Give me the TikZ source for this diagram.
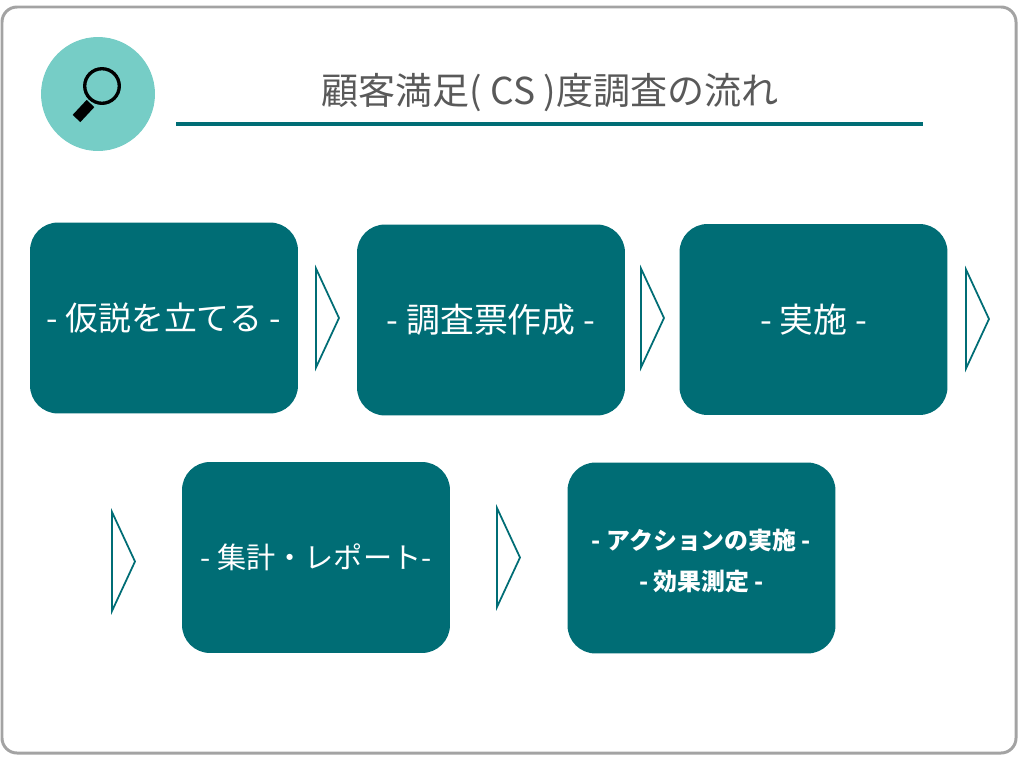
\documentclass[tikz,border=0pt]{standalone}
\usepackage{fontspec}
\setmainfont{Noto Sans CJK JP}
\definecolor{tealbox}{HTML}{006D75}
\definecolor{tealicon}{HTML}{76CDC6}
\definecolor{titlegray}{HTML}{595959}
\definecolor{framegray}{HTML}{A3A3A3}
\tikzset{
  stagebox/.style={fill=tealbox,text=white,rounded corners=0.56cm,minimum width=5.36cm,minimum height=3.82cm,inner sep=0pt,align=center,font=\fontsize{19.3}{24}\selectfont},
  nextmark/.style={draw=tealbox,line width=1pt,fill=white,line join=miter},
}
\begin{document}
\begin{tikzpicture}[x=0.02cm,y=-0.02cm]
\useasboundingbox (0,0) rectangle (1024,764);
\draw[framegray,line width=1.7pt,rounded corners=0.3cm] (2,7) rectangle (1016,753);
% title
\node[circle,fill=tealicon,minimum size=2.28cm,inner sep=0pt] (icon) at (98,94) {};
\draw[line width=1.9pt] (102,86) circle (17.3);
\draw[line width=6pt,line join=round] (90.5,103.5)--(76.5,118.5);
\node[text=titlegray,font=\fontsize{21.1}{26}\selectfont,inner sep=0pt] (title) at (550,93) {顧客満足( CS )度調査の流れ};
\draw[tealbox,line width=1.8pt] (176,124)--(923,124);
% first row
\node[stagebox,font=\fontsize{18.7}{24}\selectfont] (hypothesis) at (164,318) {- 仮説を立てる -};
\node[stagebox] (sheet) at (491,320) {- 調査票作成 -};
\node[stagebox] (survey) at (813.5,319.5) {- 実施 -};
% second row
\node[stagebox,font=\fontsize{16.6}{21}\selectfont] (report) at (316,557.5) {- 集計・レポート-};
\node[stagebox] (action) at (701.5,558) {};
\node[text=white,align=center,inner sep=0pt,font=\fontsize{13.6}{23}\bfseries\selectfont] (actiontext) at (701.5,561) {- アクションの実施 -\\- 効果測定 -};
\foreach \x/\y in {316/318,641/318,966/319,112/561.5,497/557.5}
  \draw[nextmark] (\x,\y-49.5)--(\x+23,\y)--(\x,\y+49.5)--cycle;
\end{tikzpicture}
\end{document}
